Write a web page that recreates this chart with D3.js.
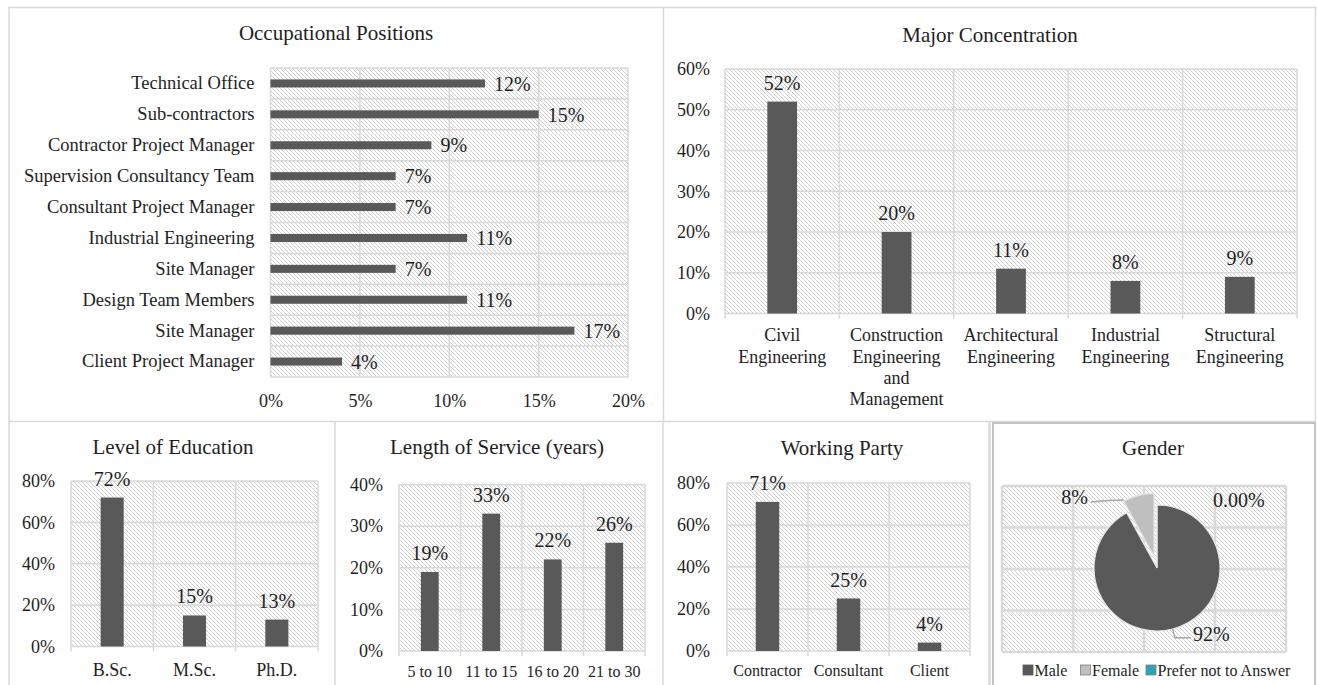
<!DOCTYPE html>
<html>
<head>
<meta charset="utf-8">
<script src="https://cdn.jsdelivr.net/npm/d3@7"></script>
<style>
  html, body { margin: 0; padding: 0; background: #fff; }
  svg { display: block; font-family: "Liberation Serif", "Times New Roman", serif; }
</style>
</head>
<body>
<svg id="chart" width="1317" height="685"></svg>
<script>
// ---- data -------------------------------------------------------------
const occCategories = ["Technical Office", "Sub-contractors", "Contractor Project Manager",
  "Supervision Consultancy Team", "Consultant Project Manager", "Industrial Engineering",
  "Site Manager", "Design Team Members", "Site Manager", "Client Project Manager"];
const occValues = [12, 15, 9, 7, 7, 11, 7, 11, 17, 4];
const occTicks = [0, 5, 10, 15, 20];

const majorCategories = [["Civil", "Engineering"], ["Construction", "Engineering", "and", "Management"],
  ["Architectural", "Engineering"], ["Industrial", "Engineering"], ["Structural", "Engineering"]];
const majorValues = [52, 20, 11, 8, 9];
const majorTicks = [0, 10, 20, 30, 40, 50, 60];

const eduCategories = ["B.Sc.", "M.Sc.", "Ph.D."];
const eduValues = [72, 15, 13];
const eduTicks = [0, 20, 40, 60, 80];

const serviceCategories = ["5 to 10", "11 to 15", "16 to 20", "21 to 30"];
const serviceValues = [19, 33, 22, 26];
const serviceTicks = [0, 10, 20, 30, 40];

const partyCategories = ["Contractor", "Consultant", "Client"];
const partyValues = [71, 25, 4];
const partyTicks = [0, 20, 40, 60, 80];

const genderCategories = ["Male", "Female", "Prefer not to Answer"];
const genderValues = [92, 8, 0];
const genderLabels = ["92%", "8%", "0.00%"];

// ---- styling ----------------------------------------------------------
const BAR = "#595959";
const GRID = "#d9d9d9";
const TEXT = "#1e1e1e";
const pct = d => d + "%";

const svg = d3.select("#chart");

// diagonal hatch used behind every plot area
const defs = svg.append("defs");
const hatch = defs.append("pattern").attr("id", "hatch")
  .attr("patternUnits", "userSpaceOnUse").attr("width", 4).attr("height", 4);
hatch.append("rect").attr("width", 4).attr("height", 4).attr("fill", "#fff");
hatch.append("path").attr("d", "M-1,-1L5,5M-1,3L1,5M3,-1L5,1")
  .attr("stroke", "#c9c9c9").attr("stroke-width", 0.9);

// panel frames
const frames = svg.append("g").attr("fill", "none").attr("stroke", GRID).attr("stroke-width", 1.5);
frames.append("path").attr("d", "M9,690V7.5H1315.5V421.5");
frames.append("path").attr("d", "M663.5,7.5V421.5");
frames.append("path").attr("d", "M9,421.5H1315.5");
frames.append("path").attr("d", "M335,421.5V690");
frames.append("path").attr("d", "M663,421.5V690");
frames.append("path").attr("d", "M989.5,421.5V690").attr("stroke-width", 2.5);
svg.append("rect").attr("x", 993).attr("y", 423).attr("width", 322).attr("height", 280)
  .attr("fill", "none").attr("stroke", "#bdbdbd").attr("stroke-width", 1.8);

function title(text, x, y) {
  svg.append("text").attr("x", x).attr("y", y).attr("dy", "0.35em")
    .attr("text-anchor", "middle").attr("font-size", 21).attr("fill", TEXT).text(text);
}

function styleAxis(g, size) {
  g.select(".domain").remove();
  g.selectAll("text").attr("font-size", size).attr("fill", TEXT)
    .attr("font-family", "Liberation Serif, Times New Roman, serif");
}

// ---- Occupational Positions (horizontal bars) -------------------------
(function () {
  const g = svg.append("g");
  const left = 270.5, right = 628, top = 68, bottom = 377;
  const x = d3.scaleLinear().domain([0, d3.max(occTicks)]).range([left, right]);
  const slots = d3.scaleBand().domain(d3.range(occValues.length)).range([top, bottom]);
  const bars = d3.scaleBand().domain(slots.domain()).range([top, bottom])
    .paddingInner(0.74).paddingOuter(0.37);

  g.append("rect").attr("x", left).attr("y", top).attr("width", right - left)
    .attr("height", bottom - top).attr("fill", "url(#hatch)");
  g.selectAll("line.v").data(occTicks).join("line").attr("class", "v")
    .attr("x1", d => x(d)).attr("x2", d => x(d)).attr("y1", top).attr("y2", bottom)
    .attr("stroke", GRID).attr("stroke-width", 1.5);
  g.selectAll("line.h").data(d3.range(occValues.length + 1)).join("line").attr("class", "h")
    .attr("x1", left).attr("x2", right)
    .attr("y1", i => top + i * slots.step()).attr("y2", i => top + i * slots.step())
    .attr("stroke", GRID).attr("stroke-width", 1.5);

  g.selectAll("rect.bar").data(occValues).join("rect").attr("class", "bar")
    .attr("x", x(0)).attr("y", (d, i) => bars(i))
    .attr("width", d => x(d) - x(0)).attr("height", bars.bandwidth()).attr("fill", BAR);
  g.selectAll("text.val").data(occValues).join("text").attr("class", "val")
    .attr("x", d => x(d) + 9).attr("y", (d, i) => slots(i) + slots.bandwidth() / 2)
    .attr("dy", "0.36em").attr("font-size", 20).attr("fill", TEXT).text(pct);

  const ya = g.append("g").attr("transform", `translate(${left},0)`)
    .call(d3.axisLeft(slots).tickSize(0).tickPadding(16).tickFormat(i => occCategories[i]));
  styleAxis(ya, 18.5);
  const xa = g.append("g").attr("transform", `translate(0,${bottom + 8})`)
    .call(d3.axisBottom(x).tickValues(occTicks).tickSize(0).tickPadding(9).tickFormat(pct));
  styleAxis(xa, 18);

  title("Occupational Positions", 336, 33);
})();

// ---- generic column chart --------------------------------------------
function columns(o) {
  const g = svg.append("g");
  const y = d3.scaleLinear().domain([0, d3.max(o.ticks)]).range([o.bottom, o.top]);
  const slots = d3.scaleBand().domain(d3.range(o.values.length)).range([o.left, o.right]);
  const bars = d3.scaleBand().domain(slots.domain()).range([o.left, o.right])
    .paddingInner(o.pad).paddingOuter(o.pad / 2);
  const edges = d3.range(o.values.length + 1).map(i => o.left + i * slots.step());

  g.append("rect").attr("x", o.left).attr("y", o.top).attr("width", o.right - o.left)
    .attr("height", o.bottom - o.top).attr("fill", "url(#hatch)");
  g.selectAll("line.h").data(o.ticks).join("line").attr("class", "h")
    .attr("x1", o.left).attr("x2", o.right).attr("y1", d => y(d)).attr("y2", d => y(d))
    .attr("stroke", GRID).attr("stroke-width", 1.5);
  g.selectAll("line.v").data(edges).join("line").attr("class", "v")
    .attr("x1", d => d).attr("x2", d => d).attr("y1", o.top).attr("y2", o.bottom + 5)
    .attr("stroke", GRID).attr("stroke-width", 1.5);

  g.selectAll("rect.bar").data(o.values).join("rect").attr("class", "bar")
    .attr("x", (d, i) => bars(i)).attr("y", d => y(d))
    .attr("width", bars.bandwidth()).attr("height", d => y(0) - y(d)).attr("fill", BAR);
  g.selectAll("text.val").data(o.values).join("text").attr("class", "val")
    .attr("x", (d, i) => bars(i) + bars.bandwidth() / 2).attr("y", d => y(d) - 12)
    .attr("text-anchor", "middle").attr("font-size", 20).attr("fill", TEXT).text(pct);

  const ya = g.append("g").attr("transform", `translate(${o.left},0)`)
    .call(d3.axisLeft(y).tickValues(o.ticks).tickSize(0).tickPadding(o.yPad).tickFormat(pct));
  styleAxis(ya, o.yFont);

  o.cats.forEach((c, i) => {
    const lines = Array.isArray(c) ? c : [c];
    const t = g.append("text").attr("x", slots(i) + slots.bandwidth() / 2)
      .attr("text-anchor", "middle").attr("font-size", o.xFont).attr("fill", TEXT);
    lines.forEach((ln, k) => t.append("tspan").attr("x", slots(i) + slots.bandwidth() / 2)
      .attr("y", o.xLabelY + k * o.lineH).attr("dy", "0.35em").text(ln));
  });

  title(o.title, o.titleX, o.titleY);
}

columns({
  title: "Major Concentration", titleX: 990, titleY: 35,
  cats: majorCategories, values: majorValues, ticks: majorTicks,
  left: 725, right: 1297, top: 69, bottom: 313.5, pad: 0.74,
  yPad: 15, yFont: 18, xFont: 18, xLabelY: 335, lineH: 21.3
});
columns({
  title: "Level of Education", titleX: 173, titleY: 447,
  cats: eduCategories, values: eduValues, ticks: eduTicks,
  left: 71, right: 318, top: 481, bottom: 646.5, pad: 0.72,
  yPad: 16, yFont: 18, xFont: 18, xLabelY: 670, lineH: 20
});
columns({
  title: "Length of Service (years)", titleX: 497, titleY: 447,
  cats: serviceCategories, values: serviceValues, ticks: serviceTicks,
  left: 399, right: 645, top: 484.5, bottom: 651, pad: 0.71,
  yPad: 16, yFont: 18, xFont: 16, xLabelY: 671, lineH: 20
});
columns({
  title: "Working Party", titleX: 842, titleY: 448,
  cats: partyCategories, values: partyValues, ticks: partyTicks,
  left: 727, right: 970, top: 483, bottom: 651, pad: 0.71,
  yPad: 17, yFont: 18, xFont: 16, xLabelY: 670, lineH: 20
});

// ---- Gender (pie) -----------------------------------------------------
(function () {
  const g = svg.append("g");
  const left = 1002, right = 1286, top = 486, bottom = 652;
  const gx = d3.scaleLinear().domain([0, 4]).range([left, right]);
  const gy = d3.scaleLinear().domain([0, 4]).range([top, bottom]);
  g.append("rect").attr("x", left).attr("y", top).attr("width", right - left)
    .attr("height", bottom - top).attr("fill", "url(#hatch)");
  g.selectAll("line.v").data(d3.range(5)).join("line").attr("class", "v")
    .attr("x1", d => gx(d)).attr("x2", d => gx(d)).attr("y1", top).attr("y2", bottom)
    .attr("stroke", GRID).attr("stroke-width", 2.5);
  g.selectAll("line.h").data(d3.range(5)).join("line").attr("class", "h")
    .attr("x1", left).attr("x2", right).attr("y1", d => gy(d)).attr("y2", d => gy(d))
    .attr("stroke", GRID).attr("stroke-width", 2.5);

  const cx = 1157, cy = 568, r = 63, explode = [0, 12, 0];
  const colors = ["#595959", "#bfbfbf", "#2ea3b3"];
  const arcs = d3.pie().sort(null).value(d => d)(genderValues);
  const arc = d3.arc().innerRadius(0).outerRadius(r);
  const dir = a => [Math.sin(a), -Math.cos(a)];
  const shift = (d, i) => {
    const [ux, uy] = dir((d.startAngle + d.endAngle) / 2);
    return [cx + ux * explode[i], cy + uy * explode[i]];
  };

  g.selectAll("path.slice").data(arcs).join("path").attr("class", "slice")
    .attr("transform", (d, i) => `translate(${shift(d, i)})`)
    .attr("d", arc).attr("fill", (d, i) => colors[i])
    .attr("stroke", "#e6e6e6").attr("stroke-width", 1.2);

  // data labels with leader lines
  const lead = { stroke: "#a6a6a6", "stroke-width": 1.3, fill: "none" };
  // Female
  const f = arcs[1], fc = shift(f, 1);
  const [fsx, fsy] = dir(f.startAngle + 0.01);
  const fEnd = [fc[0] + fsx * (r + 1), fc[1] + fsy * (r + 1)];
  const fLine = g.append("path").attr("d", d3.line()([[1091, 502], [1108, 500.5], fEnd]));
  Object.entries(lead).forEach(([k, v]) => fLine.attr(k, v));
  g.append("text").attr("x", 1088).attr("y", 497).attr("dy", "0.33em")
    .attr("text-anchor", "end").attr("font-size", 20).attr("fill", TEXT).text(genderLabels[1]);
  // Male
  const m = arcs[0];
  const [mx, my] = dir((m.startAngle + m.endAngle) / 2);
  const mLine = g.append("path").attr("d", d3.line()([
    [cx + mx * (r - 1), cy + my * (r - 1)], [cx + mx * (r + 9), cy + my * (r + 9)], [1191, cy + my * (r + 9)]]));
  Object.entries(lead).forEach(([k, v]) => mLine.attr(k, v));
  g.append("text").attr("x", 1193).attr("y", 634).attr("dy", "0.33em")
    .attr("font-size", 20).attr("fill", TEXT).text(genderLabels[0]);
  // Prefer not to answer
  g.append("text").attr("x", 1213).attr("y", 500).attr("dy", "0.33em")
    .attr("font-size", 20).attr("fill", TEXT).text(genderLabels[2]);

  // legend
  const legendX = [1023, 1080.5, 1146];
  const lg = g.selectAll("g.lg").data(genderCategories).join("g").attr("class", "lg")
    .attr("transform", (d, i) => `translate(${legendX[i]},670)`);
  lg.append("rect").attr("x", 0).attr("y", -5).attr("width", 10).attr("height", 10)
    .attr("fill", (d, i) => colors[i]).attr("stroke", (d, i) => i === 0 ? colors[0] : "#7f7f7f")
    .attr("stroke-width", 0.8);
  lg.append("text").attr("x", 11.5).attr("y", 0).attr("dy", "0.35em")
    .attr("font-size", 16).attr("fill", TEXT).text(d => d);

  title("Gender", 1153, 448);
})();
</script>
</body>
</html>
